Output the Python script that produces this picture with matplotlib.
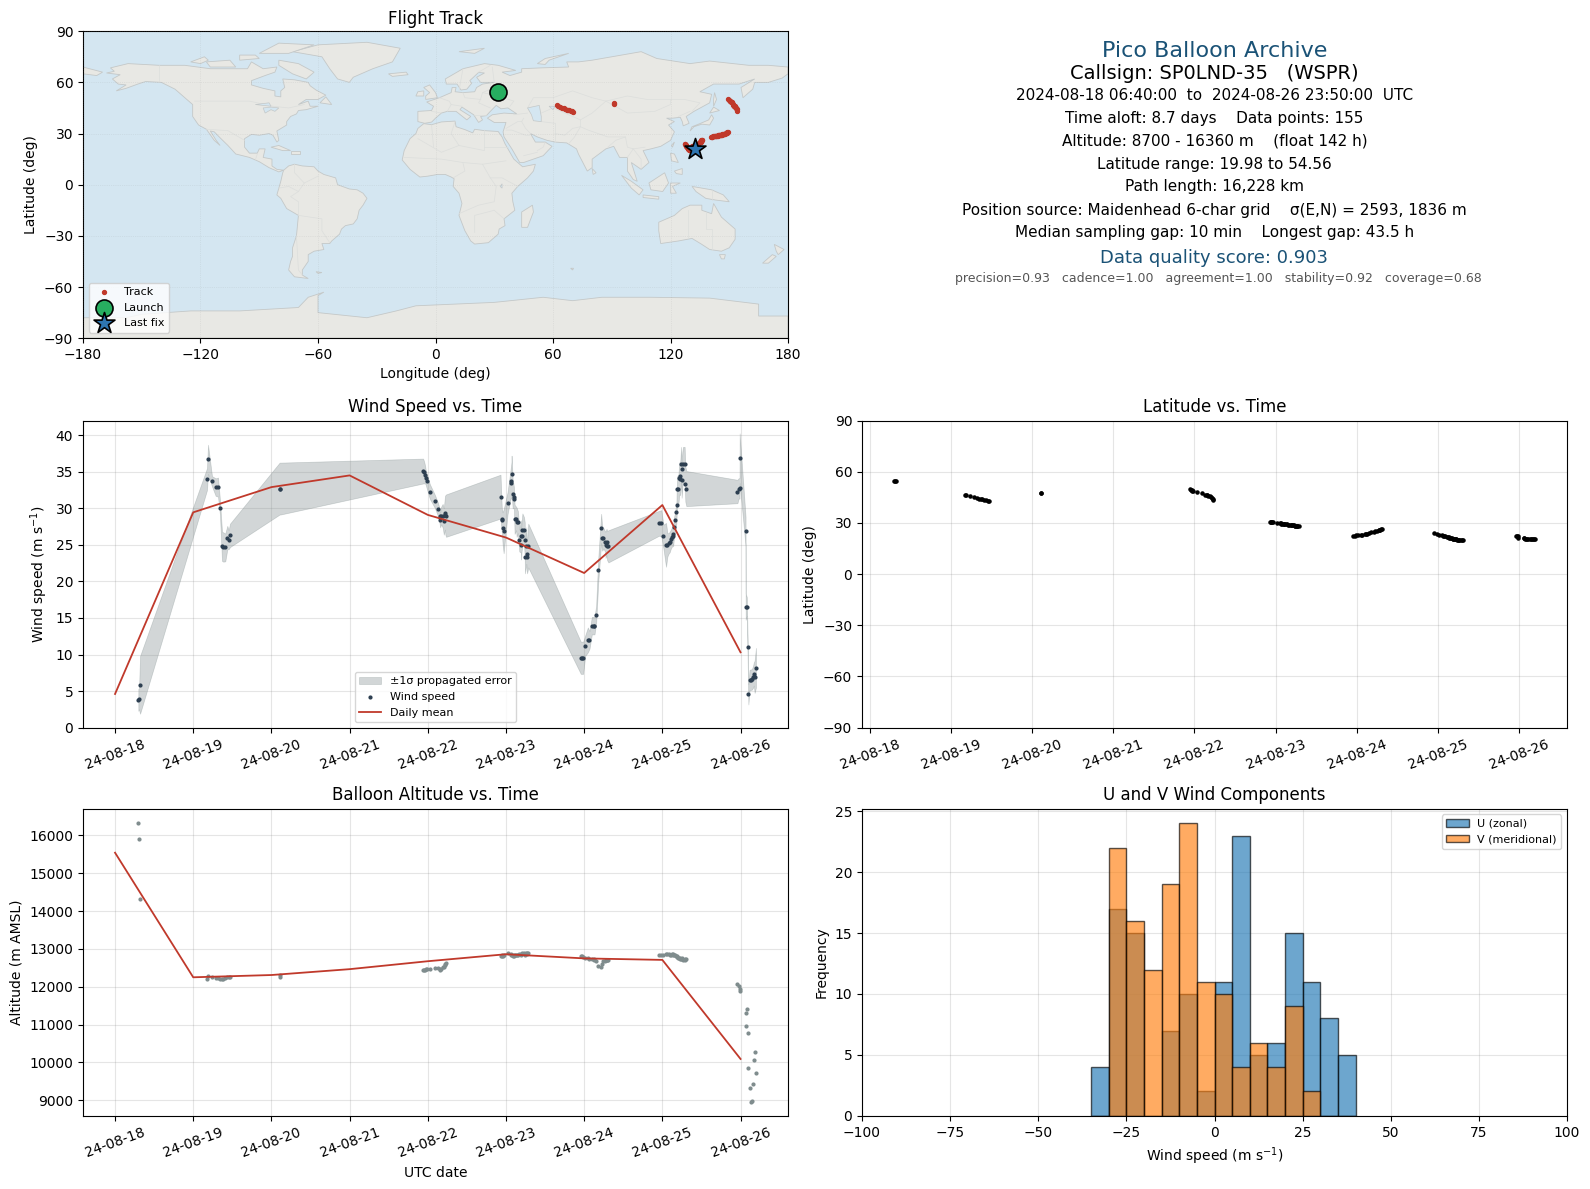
import datetime
import matplotlib
matplotlib.use('Agg')
import matplotlib.pyplot as plt
import matplotlib.dates as mdates
import numpy as np

# days since 2024-08-18 00:00 for each fix
days = [
    0.298, 0.307, 0.32,
    1.176, 1.189, 1.24, 1.287, 1.317, 1.342, 1.368, 1.385, 1.41, 1.436, 1.453, 1.47,
    2.105, 2.115,
    3.94, 3.953, 3.966, 3.974, 3.987, 4.026, 4.09, 4.128, 4.15, 4.158, 4.17, 4.19, 4.205, 4.22, 4.225, 4.234,
    4.93, 4.945, 4.947, 4.957, 4.97, 5.02, 5.06, 5.07, 5.072, 5.085, 5.1, 5.102, 5.11, 5.13, 5.136, 5.153,
    5.17, 5.19, 5.192, 5.2, 5.21, 5.23, 5.24, 5.242, 5.26, 5.264, 5.27, 5.285,
    5.957, 5.975, 5.987, 6.013, 6.047, 6.068, 6.098, 6.12, 6.132, 6.153, 6.18, 6.217, 6.23, 6.247, 6.27, 6.273,
    6.286, 6.294, 6.31,
    6.957, 6.987, 7.013, 7.047, 7.064, 7.08, 7.094, 7.107, 7.124, 7.136, 7.138, 7.15, 7.166, 7.18, 7.182, 7.19,
    7.205, 7.217, 7.226, 7.23, 7.24, 7.247, 7.256, 7.264, 7.285, 7.294, 7.307,
    7.96, 7.974, 7.987, 7.989, 8.064, 8.066, 8.08, 8.09, 8.1, 8.115, 8.13, 8.145, 8.16, 8.17, 8.18, 8.197,
]
wind = [
    3.8, 3.9, 5.85,
    34.0, 36.7, 33.7, 32.9, 32.9, 30.1, 24.8, 24.7, 24.65, 26.0, 25.7, 26.3,
    32.7, 32.7,
    35.1, 34.9, 34.6, 34.2, 33.7, 32.3, 30.95, 29.9, 29.0, 28.4, 29.0, 29.0, 28.2, 29.4, 29.1, 29.0,
    31.6, 28.6, 28.35, 27.25, 26.85, 30.7, 33.4, 33.8, 34.7, 32.0, 31.5, 31.3, 28.5, 28.6, 28.1, 28.1,
    25.6, 26.15, 25.0, 26.15, 27.1, 27.0, 25.7, 23.3, 24.9, 23.8, 23.3, 24.9,
    9.55, 9.55, 9.55, 11.2, 12.0, 12.0, 13.95, 13.95, 13.95, 15.45, 21.5, 27.25, 25.9, 25.9, 25.4, 25.0,
    25.4, 24.9, 24.8,
    27.95, 27.95, 26.15, 25.0, 25.0, 25.2, 25.4, 25.75, 26.1, 26.5, 26.2, 27.5, 28.35, 29.45, 30.5, 32.6,
    32.6, 34.1, 34.0, 34.4, 36.0, 33.85, 35.35, 36.0, 36.0, 33.3, 32.7,
    32.3, 32.7, 32.75, 36.85, 26.85, 16.55, 16.55, 11.07, 4.57, 6.5, 6.55, 6.6, 6.95, 7.35, 6.95, 8.2,
]
wind_err = [
    1.5, 1.4, 3.95,
    1.5, 2.0, 0.7, 1.2, 1.3, 1.0, 2.0, 2.0, 1.9, 1.6, 1.3, 1.6,
    3.55, 3.55,
    1.7, 1.5, 1.2, 1.0, 1.0, 1.0, 0.9, 0.9, 1.0, 1.0, 1.2, 1.6, 1.8, 2.3, 2.7, 2.9,
    3.0, 1.8, 1.6, 2.2, 3.0, 1.5, 2.0, 2.5, 2.5, 2.0, 1.5, 1.5, 2.0, 1.6, 2.0, 1.5,
    1.5, 2.2, 2.0, 2.0, 2.2, 1.8, 2.4, 2.2, 2.5, 2.2, 2.2, 3.0,
    2.2, 2.2, 2.2, 1.4, 1.7, 1.2, 1.2, 1.2, 1.2, 1.2, 1.6, 2.0, 1.7, 1.4, 1.4, 1.8,
    1.8, 2.0, 2.2,
    1.7, 1.8, 1.6, 3.0, 1.6, 1.4, 1.4, 1.3, 1.3, 1.4, 1.4, 1.3, 1.4, 1.4, 1.6, 1.8,
    2.0, 2.2, 2.2, 2.2, 2.4, 2.4, 2.4, 2.4, 2.4, 2.4, 2.4,
    1.6, 1.4, 1.4, 3.4, 2.0, 1.8, 1.3, 1.2, 1.4, 1.4, 1.4, 1.4, 1.5, 1.6, 2.2, 2.7,
]
altitude = [
    16337, 15913, 14326,
    12200, 12280, 12260, 12240, 12220, 12210, 12200, 12210, 12230, 12250, 12260, 12270,
    12320, 12250,
    12430, 12440, 12440, 12460, 12470, 12480, 12490, 12490, 12470, 12450, 12470, 12510, 12530, 12570, 12590, 12620,
    12810, 12800, 12830, 12820, 12850, 12890, 12860, 12850, 12840, 12810, 12830, 12810, 12840, 12830, 12850, 12840,
    12860, 12870, 12850, 12880, 12860, 12890, 12870, 12840, 12880, 12890, 12860, 12880,
    12810, 12800, 12780, 12760, 12750, 12740, 12740, 12740, 12700, 12680, 12560, 12530, 12600, 12680, 12690, 12720,
    12700, 12710, 12720,
    12830, 12850, 12850, 12860, 12870, 12860, 12850, 12850, 12870, 12860, 12840, 12850, 12830, 12810, 12800, 12780,
    12770, 12750, 12770, 12740, 12730, 12750, 12730, 12720, 12730, 12720, 12730,
    12080, 12007, 11930, 11900, 11310, 10966, 11416, 10780, 9855, 9326, 8956, 8982, 9432, 10067, 10279, 9723,
]
latitude = [
    54.6, 54.56, 54.5,
    46.5, 46.2, 45.6, 45.0, 44.7, 44.3, 44.0, 43.8, 43.6, 43.3, 43.0, 42.7,
    47.7, 47.5,
    50.0, 49.6, 49.2, 48.9, 48.6, 48.2, 47.3, 46.6, 46.4, 46.2, 46.0, 45.6, 45.2, 44.7, 44.3, 43.5,
    30.8, 30.7, 30.6, 30.4, 30.3, 30.0, 29.8, 29.7, 29.6, 29.5, 29.4, 29.3, 29.3, 29.2, 29.1, 29.0,
    28.9, 28.8, 28.8, 28.7, 28.6, 28.5, 28.4, 28.4, 28.3, 28.2, 28.2, 28.0,
    22.4, 22.5, 22.7, 22.8, 23.0, 23.1, 23.4, 23.6, 23.7, 24.0, 24.4, 24.8, 25.0, 25.3, 25.6, 25.8,
    26.0, 26.3, 26.5,
    24.1, 23.6, 23.2, 22.8, 22.5, 22.3, 22.1, 21.9, 21.7, 21.5, 21.4, 21.2, 21.1, 20.9, 20.8, 20.6,
    20.5, 20.4, 20.3, 20.3, 20.2, 20.2, 20.1, 20.1, 20.0, 20.0, 19.98,
    22.4, 22.3, 22.2, 21.2, 21.0, 20.9, 20.8, 20.8, 20.7, 20.7, 20.7, 20.7, 20.6, 20.6, 20.6, 20.6,
]
longitude = [
    31.9, 32.0, 32.1,
    62.0, 62.8, 63.8, 64.8, 65.5, 66.2, 67.0, 67.6, 68.3, 69.0, 69.7, 70.4,
    91.0, 91.2,
    149.4, 149.8, 150.2, 150.6, 151.0, 151.3, 151.7, 152.1, 152.4, 152.6, 152.9, 153.1, 153.4, 153.7, 153.9, 154.2,
    149.4, 149.1, 148.8, 148.5, 148.2, 147.8, 147.4, 147.1, 146.8, 146.5, 146.2, 145.9, 145.6, 145.3, 145.0, 144.7,
    144.4, 144.0, 143.7, 143.4, 143.1, 142.8, 142.5, 142.2, 141.8, 141.4, 141.0, 140.5,
    131.2, 131.5, 131.9, 132.2, 132.6, 132.9, 133.3, 133.6, 133.9, 134.2, 134.6, 135.0, 135.2, 135.4, 135.6, 135.7,
    135.8, 135.9, 136.0,
    127.5, 127.6, 127.7, 127.9, 128.0, 128.2, 128.4, 128.5, 128.7, 128.8, 128.9, 129.0, 129.2, 129.4, 129.5, 129.6,
    129.8, 129.9, 130.0, 130.2, 130.3, 130.4, 130.6, 130.7, 130.8, 130.9, 131.0,
    133.5, 133.4, 133.3, 133.2, 133.1, 133.0, 132.9, 132.8, 132.7, 132.6, 132.5, 132.5, 132.4, 132.4, 132.3, 132.3,
]

daily_days = [0, 1, 2, 3, 4, 5, 6, 7, 8]
daily_wind = [4.6, 29.45, 32.9, 34.5, 29.1, 26.0, 21.15, 30.45, 10.3]
daily_alt = [15545, 12250, 12310, 12465, 12675, 12860, 12750, 12710, 10090]

bin_edges = [-35, -30, -25, -20, -15, -10, -5, 0, 5, 10, 15, 20, 25, 30, 35, 40]
u_counts = [4, 17, 15, 0, 7, 10, 2, 11, 23, 5, 6, 15, 11, 8, 5]
v_counts = [0, 22, 16, 12, 19, 24, 11, 10, 4, 6, 4, 9, 2, 0, 0]

launch_lon, launch_lat = 31.9, 54.4
last_lon, last_lat = 132.3, 21.0

info_lines = [
    ('Pico Balloon Archive', 16, '#1a5276', 51.2, 1214.5),
    ('Callsign: SP0LND-35   (WSPR)', 14, 'black', 73.5, 1214.5),
    ('2024-08-18 06:40:00  to  2024-08-26 23:50:00  UTC', 11, 'black', 95, 1214.5),
    ('Time aloft: 8.7 days    Data points: 155', 11, 'black', 118, 1214.5),
    ('Altitude: 8700 - 16360 m    (float 142 h)', 11, 'black', 140.5, 1214.5),
    ('Latitude range: 19.98 to 54.56', 11, 'black', 164, 1214.5),
    ('Path length: 16,228 km', 11, 'black', 187, 1214.5),
    ('Position source: Maidenhead 6-char grid    σ(E,N) = 2593, 1836 m', 11, 'black', 210, 1214.5),
    ('Median sampling gap: 10 min    Longest gap: 43.5 h', 11, 'black', 233, 1214.5),
    ('Data quality score: 0.903', 13, '#1a5276', 258, 1214.5),
    ('precision=0.93   cadence=1.00   agreement=1.00   stability=0.92   coverage=0.68', 9, '#555555', 279, 1218.5),
]

# coarse coastlines, lon/lat
land = [
    # north america
    [(-168,65.5),(-164,66.5),(-166,68.5),(-157,71),(-141,70),(-128,70),(-115,68),(-108,68),(-96,68),(-94,72),(-88,68),
     (-81,69),(-82,66),(-87,64),(-94,61),(-94,58.5),(-88,56.5),(-82,55),(-82,52),(-79,51.5),(-79,55),(-77,57),(-78,62),
     (-72,61.5),(-65,60),(-64,58),(-61,55.5),(-56,52.5),(-60,50),(-66,50),(-70,47),(-65,49),(-64,46),(-60,46),(-66,44),
     (-70,43.5),(-71,41.5),(-74,40),(-76,37),(-76,35),(-81,31.5),(-80,26),(-81,25),(-83,29),(-85,30),(-90,29),(-94,29.5),
     (-97.5,27),(-97.5,22),(-95,18.5),(-91,18.5),(-90,21),(-87,21),(-88,16),(-83.5,15),(-83.5,11),(-81,9),(-77.5,8.5),
     (-80,7.5),(-85,10),(-90,13.5),(-95,16),(-102,18),(-106,23),(-110,27.5),(-113,31),(-115,31.5),(-112,26),(-110,23),
     (-113,26),(-117,32.5),(-121,35),(-124,40),(-124,47),(-128,51),(-133,56),(-140,60),(-148,60.5),(-152,59),(-158,56.5),
     (-163,55),(-158,58.5),(-162,59),(-165,62),(-161,64.5)],
    # south america
    [(-77.5,8.5),(-75,11),(-72,12),(-68,11),(-62,10.5),(-60,8),(-57,6),(-51,4),(-50,0),(-44,-2.5),(-40,-3),(-37,-5),
     (-35,-8),(-37,-12),(-39,-15),(-40,-20),(-42,-23),(-46,-24),(-48,-26),(-49,-29),(-53,-33),(-54,-34.5),(-58,-34.5),
     (-57,-38),(-62,-39),(-65,-41),(-65,-45),(-68,-50),(-68,-53),(-65,-55),(-72,-54),(-75,-50),(-74,-45),(-73,-42),
     (-73,-37),(-71,-30),(-70,-18),(-76,-14),(-79,-8),(-81,-6),(-80,-2),(-79,2),(-78,7)],
    # africa
    [(-6,35.8),(-2,35.2),(3,36.8),(10,37.3),(10.5,34),(15,32.3),(19,30.4),(20,32.5),(25,31.7),(32,31.2),(34,28),(35.5,24),
     (37,21),(38.5,18),(40,15),(43,12),(44.5,10.5),(51,12),(50,8),(47,4),(42,-1),(39,-5),(39.5,-10),(40.5,-15),(35,-20),
     (35.5,-24),(32.5,-26),(32,-29),(27,-34),(20,-34.8),(18,-33),(15,-27),(12,-18),(13.5,-11),(12,-5),(9,-1),(9.5,3.5),
     (8,4.5),(5,6),(1,6),(-4,5),(-8,4.5),(-13,9),(-17,14.5),(-16,20),(-13,27),(-10,30),(-9,33)],
    # eurasia
    [(-9,37),(-9,43),(-2,43.5),(-1,46),(-4.5,48.5),(2,51),(8,54),(8.5,57),(10.5,57),(10,54.5),(14,54),(20,54.5),(21,57),
     (24,59),(30,60),(23,60),(21,63),(25,65.5),(22,65.8),(17.5,61),(18.5,59.5),(16,56),(13,55.5),(11,59),(5.5,59),(5,62),
     (14,68),(25,71),(32,70),(41,67),(34,66),(38,64),(44,66),(44,68),(54,68.5),(68,69),(67,72),(73,72),(80,73),(95,76),
     (105,78),(113,74),(130,71),(140,72.5),(160,70),(170,70),(180,69),(180,65),(177,62.5),(170,60),(163,60),(162,56),
     (157,51),(156,57),(163,62),(155,59),(142,59),(135,54.5),(141,53),(140,48),(132,43),(128,40),(129.5,36),(126.5,34.5),
     (126,37),(125,39.5),(121,39),(118,39),(122,37),(119,35),(122,31),(120,26),(115,22.5),(110,21),(106,20),(109,13),
     (105,9),(100,13),(103,2),(101,3),(98,8),(98,16),(94,16),(91,22.5),(87,21),(80,15),(80,10),(77.5,8),(73,18),(72,21),
     (67,24.5),(61,25),(57,26),(52,28),(48.5,30),(51,25),(56,25),(59.5,22.5),(55,17),(45,13),(43,13),(39,21),(35,28),
     (34.5,31),(36,36.5),(30,36.5),(26.5,39),(29,41),(35,42),(41.5,41.5),(37,45),(33.5,44.5),(31,46.5),(28,43),(26,40.5),
     (23,40),(24,38),(22,36.5),(19.5,41),(13.5,45.5),(12.5,44),(18,40),(16,38),(10.5,43),(6,43),(3,42),(0,39),(-2,36.7),
     (-5.5,36)],
    [(-180,69),(-170,66),(-173,64),(-180,65)],
    # greenland and arctic islands
    [(-73,78),(-60,82),(-35,83.5),(-18,80),(-22,72),(-32,68),(-42,63),(-44,60),(-50,62),(-54,68),(-58,75)],
    [(-80,73),(-70,71),(-62,66),(-66,62),(-73,65),(-80,70)],
    [(-90,77),(-80,83),(-62,82),(-75,77)],
    [(-117,72),(-105,73),(-102,69),(-115,69)],
    [(-125,72),(-118,75),(-116,73),(-120,71)],
    [(-100,76),(-92,76),(-90,74),(-100,73)],
    [(-59,48),(-53,47),(-56,51.5)],
    [(-84,22),(-80,23),(-74,20),(-78,20)],
    [(-74,19.5),(-69,19.5),(-69,18),(-74,18)],
    [(-24,65),(-15,66),(-14,64.5),(-22,63.5)],
    [(-5,50),(1,51),(0,54),(-3,58.5),(-6,57),(-3,54),(-5,52)],
    [(-10,52),(-6,52),(-6,55),(-9,54.5)],
    [(12,78),(25,80),(20,77)],
    [(52,71),(56,74),(68,77),(58,73),(56,70.5)],
    # east asia and pacific
    [(130,31.5),(132,34),(136,35.5),(140,35),(142,39),(141,41),(139.5,38),(135,35.8),(131,34)],
    [(140,42),(145,43.5),(142,45.5)],
    [(142,46),(143.5,50),(142.5,54),(142,50)],
    [(120.5,23),(122,25),(121,22)],
    [(120,18.5),(122,18),(124,13),(120.5,14)],
    [(122,8),(126,9.5),(126,6),(123,6.5)],
    [(95,5.5),(100,2),(106,-3),(104,-6),(100,-2)],
    [(106,-6),(114,-7),(114,-8.5),(106,-7.5)],
    [(109,1),(117,7),(119,1),(116,-4),(110,-3)],
    [(120,1),(125,1),(121,-1),(123,-5),(120,-5)],
    [(131,-1),(141,-3),(147,-6),(150,-10),(143,-9),(138,-8),(133,-4)],
    [(114,-22),(122,-18),(126,-14),(130,-12),(136,-12),(136,-15),(141,-17),(142,-11),(146,-19),(153,-26),(153,-32),
     (150,-37),(146,-39),(140,-38),(136,-35),(131,-31.5),(124,-33),(115,-34.5),(114,-27)],
    [(145,-41),(148,-41),(147.5,-43.5),(146,-43.5)],
    [(173,-35),(178,-38),(175,-41),(174,-39)],
    [(172,-41),(174,-42),(170,-46),(167,-46)],
    [(44,-16),(49.5,-12),(50,-16),(47,-25),(44,-25)],
    [(80,9.5),(82,7),(80.5,6)],
    [(-61,-51),(-58,-51.5),(-60,-52)],
    [(69,-49),(70.5,-49),(70,-50)],
    # antarctica
    [(-180,-78),(-180,-90),(180,-90),(180,-77),(165,-77),(165,-70),(140,-66.5),(110,-66),(85,-66),(70,-68),(55,-66),
     (30,-69),(10,-70),(-10,-71),(-20,-74),(-35,-78),(-60,-75),(-60,-65),(-57,-63),(-65,-66),(-70,-72),(-85,-73),
     (-100,-74),(-125,-74),(-150,-76),(-158,-78)],
]
lakes = [
    [(47,45),(53,46.5),(54,40),(54,37),(50,37.5),(49,41)],
    [(-92,47),(-85,48),(-84,46),(-88,46.5)],
    [(-88,45),(-84,45.5),(-80,45),(-82,43),(-84,44),(-87,42)],
    [(33,-1),(34,0.5),(34,-2)],
    [(58,46),(61,46),(60,44)],
]
borders = [
    [(-141,70),(-141,60)], [(-123,49),(-95,49),(-83,46),(-75,45),(-67,47)], [(-117,32.5),(-106,31.7),(-97.5,26)],
    [(-92,14.5),(-91,18)], [(-70,-18),(-58,-20),(-58,-27),(-54,-34)], [(-70,-18),(-70,-10),(-74,-7),(-70,-4),(-67,1),(-60,5)],
    [(-71,-30),(-70,-50),(-68,-53)], [(-72,12),(-72,7),(-67,1)], [(-80,-2),(-75,-1),(-70,-4)],
    [(-9,27),(3,19),(12,23),(25,20),(25,32)], [(25,22),(37,22)], [(-16,16),(3,15),(14,13),(24,12),(36,14)],
    [(9,4),(15,8),(14,13)], [(24,12),(28,4),(31,-1),(30,-10),(22,-12),(12,-17)], [(42,-1),(34,4),(28,4)],
    [(20,-28),(20,-18),(30,-15),(35,-20)], [(10,37),(8,30),(12,23)], [(-2,35),(-1,22)],
    [(-2,43),(3,42)], [(2,51),(7,49),(8,47),(13.5,46)], [(6,43),(8,47)], [(14,54),(15,51),(23,50),(24,54),(28,56),(28,60)],
    [(23,50),(22,48),(28,45)], [(24,54),(32,52),(40,49),(38,46)], [(19.5,41),(26,41)],
    [(12,55),(14,68)], [(22,66),(28,70)], [(30,60),(29,69)],
    [(47,42),(40,41)], [(47,45),(50,51),(60,51),(70,55),(80,51),(87,49),(98,52),(108,50),(120,50),(127,50),(135,48),(131,43)],
    [(87,49),(80,42),(74,38),(74,34),(78,32),(88,28),(97,28),(98,22),(101,21)], [(54,42),(60,45),(68,41),(74,38)],
    [(61,36),(54,37)], [(61,36),(61,30),(61,25)], [(61,30),(66,29),(70,33),(74,34)], [(68,24),(71,28),(74,34)],
    [(45,39),(44,37),(46,33),(48.5,30)], [(36,33),(42,37),(44,37)], [(36,32),(39,32),(46,29),(48,29)], [(52,20),(55,22),(56,25)],
    [(45,17),(52,19)], [(88,22),(92,26),(97,28)], [(98,16),(101,21),(107,22)], [(101,21),(105,15),(105,10)],
    [(87,49),(98,42),(112,43),(120,47),(120,50)], [(124,40),(130,43)], [(141,-3),(141,-9)], [(129,-15),(129,-31)],
    [(138,-16),(138,-26),(141,-26),(141,-38)],
]

dates = [datetime.datetime(2024, 8, 18) + datetime.timedelta(days=d) for d in days]
daily_dates = [datetime.datetime(2024, 8, 18) + datetime.timedelta(days=d) for d in daily_days]
dates = mdates.date2num(dates)
daily_dates = mdates.date2num(daily_dates)

W, H = 1590.0, 1189.0


def axes_px(x0, y0, x1, y1):
    return [x0 / W, 1 - y1 / H, (x1 - x0) / W, (y1 - y0) / H]


def date_axis(ax):
    ax.xaxis.set_major_locator(mdates.DayLocator())
    ax.xaxis.set_major_formatter(mdates.DateFormatter('%y-%m-%d'))
    ax.tick_params(axis='x', rotation=20)
    ax.grid(True, color='gray', alpha=0.2, linewidth=0.8)
    ax.set_axisbelow(True)


fig = plt.figure(figsize=(W / 100, H / 100), dpi=100)

# map
ax = fig.add_axes(axes_px(83, 31.2, 788, 338.2))
ax.set_facecolor('#d4e6f1')
for poly in land:
    ax.fill(*zip(*poly), facecolor='#e8e8e4', edgecolor='#c4c8c8', linewidth=0.6, zorder=1)
for poly in lakes:
    ax.fill(*zip(*poly), facecolor='#d4e6f1', edgecolor='#c4c8c8', linewidth=0.5, zorder=1.2)
for line in borders:
    ax.plot(*zip(*line), color='#dcdedc', linewidth=0.5, zorder=1.1)
ax.grid(True, color='gray', alpha=0.2, linewidth=0.5, linestyle=':', zorder=2)
ax.set_axisbelow(False)
ax.scatter(longitude, latitude, s=8, color='#c0392b', label='Track', zorder=3)
ax.scatter([launch_lon], [launch_lat], s=150, color='#27ae60', edgecolors='black', linewidths=1.2, label='Launch', zorder=4)
ax.scatter([last_lon], [last_lat], s=250, marker='*', color='#2e75b0', edgecolors='black', linewidths=1.2, label='Last fix', zorder=5)
ax.set_xlim(-180, 180)
ax.set_ylim(-90, 90)
ax.set_xticks(np.arange(-180, 181, 60))
ax.set_yticks(np.arange(-90, 91, 30))
ax.set_xlabel('Longitude (deg)')
ax.set_ylabel('Latitude (deg)')
ax.set_title('Flight Track', pad=5)
ax.legend(loc='lower left', fontsize=8)

# info panel
for text, size, color, y, x in info_lines:
    fig.text(x / W, 1 - y / H, text, fontsize=size, color=color, ha='center', va='center')

# wind speed
ax = fig.add_axes(axes_px(83, 420.6, 788, 727.6))
low = [w - e for w, e in zip(wind, wind_err)]
high = [w + e for w, e in zip(wind, wind_err)]
ax.fill_between(dates, low, high, color='#7f8c8d', alpha=0.35, linewidth=0.5, label='±1σ propagated error')
ax.scatter(dates, wind, s=4, color='#2c3e50', label='Wind speed', zorder=3)
ax.plot(daily_dates, daily_wind, color='#c0392b', linewidth=1.3, label='Daily mean', zorder=4)
ax.set_ylim(0, 42)
ax.set_ylabel(r'Wind speed (m s$^{-1}$)')
ax.set_title('Wind Speed vs. Time')
date_axis(ax)
ax.legend(loc='lower center', fontsize=8)

# latitude
ax = fig.add_axes(axes_px(862, 420.6, 1567, 727.6))
ax.scatter(dates, latitude, s=5, color='black', zorder=3)
ax.set_ylim(-90, 90)
ax.set_yticks(np.arange(-90, 91, 30))
ax.set_ylabel('Latitude (deg)')
ax.set_title('Latitude vs. Time')
date_axis(ax)

# altitude
ax = fig.add_axes(axes_px(83, 808.8, 788, 1115.8))
ax.scatter(dates, altitude, s=4, color='#7f8c8d', zorder=3)
ax.plot(daily_dates, daily_alt, color='#c0392b', linewidth=1.3, zorder=4)
ax.set_ylabel('Altitude (m AMSL)')
ax.set_xlabel('UTC date')
ax.set_title('Balloon Altitude vs. Time')
date_axis(ax)

# u and v histogram
ax = fig.add_axes(axes_px(862, 808.8, 1567, 1115.8))
centers = [(a + b) / 2 for a, b in zip(bin_edges[:-1], bin_edges[1:])]
ax.hist(centers, bins=bin_edges, weights=u_counts, color='#1f77b4', alpha=0.65, edgecolor='black', label='U (zonal)')
ax.hist(centers, bins=bin_edges, weights=v_counts, color='#ff7f0e', alpha=0.65, edgecolor='black', label='V (meridional)')
ax.set_xlim(-100, 100)
ax.set_xlabel(r'Wind speed (m s$^{-1}$)')
ax.set_ylabel('Frequency')
ax.set_title('U and V Wind Components')
ax.grid(True, color='gray', alpha=0.2, linewidth=0.8)
ax.set_axisbelow(True)
ax.legend(loc='upper right', fontsize=8)

fig.savefig('out.png', dpi=100)
